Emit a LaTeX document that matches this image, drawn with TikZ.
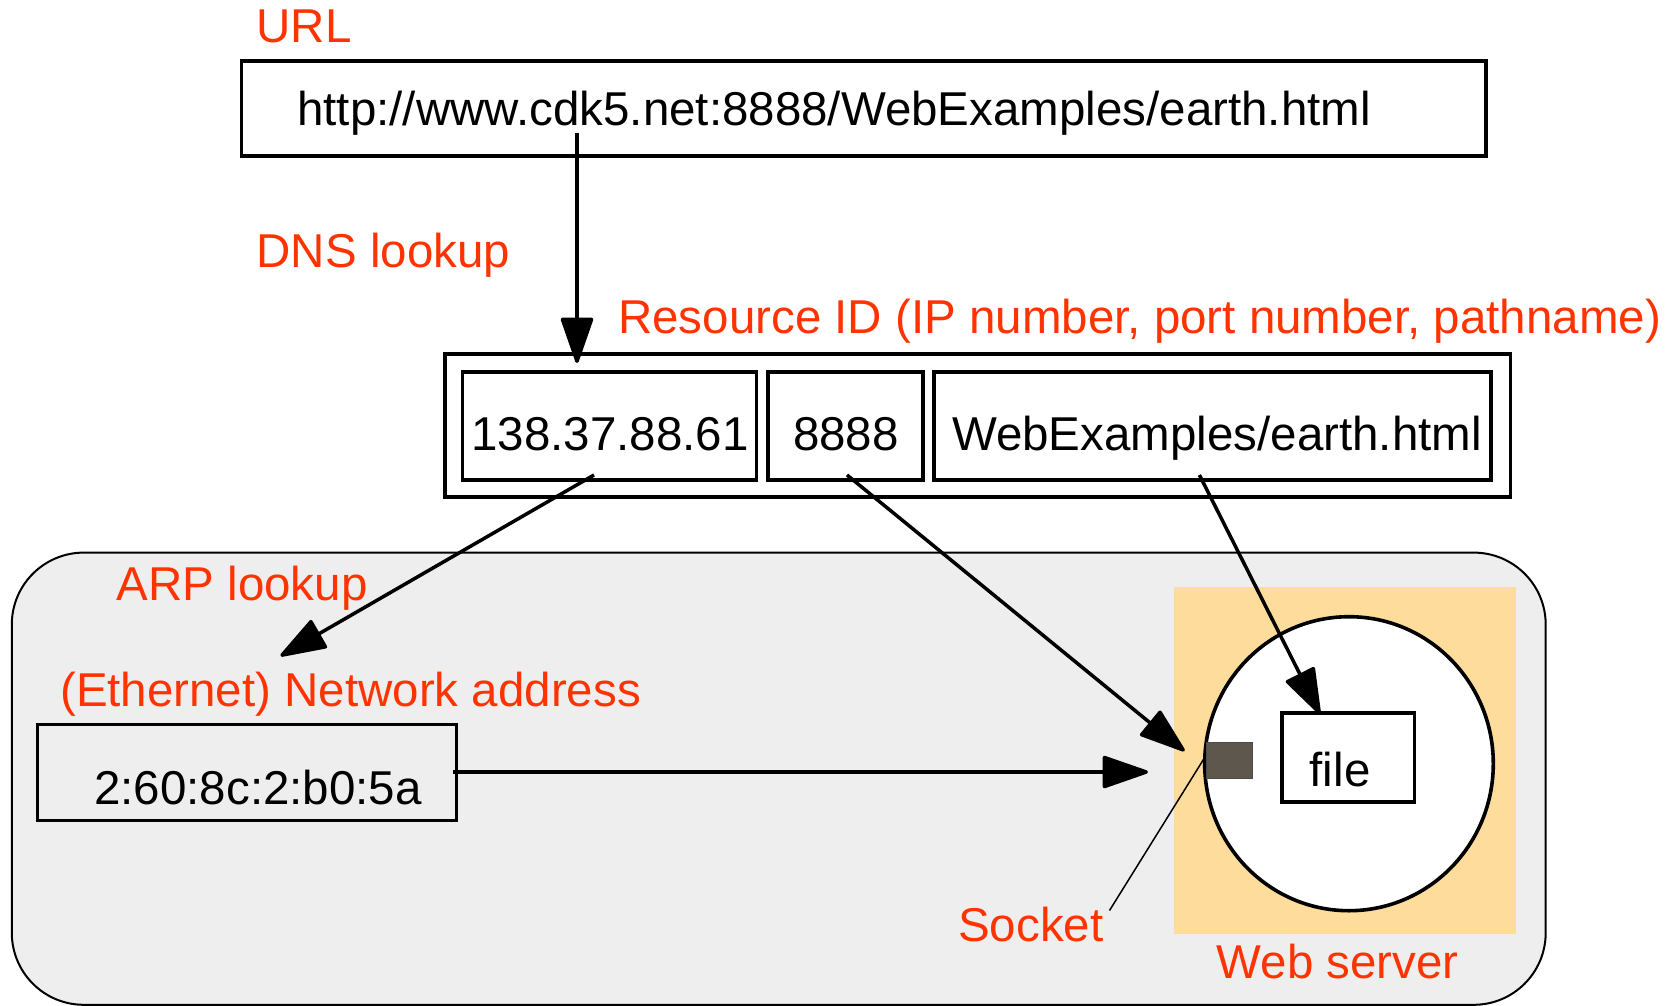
\documentclass[tikz,border=0pt]{standalone}
\usepackage{fontspec}
\setmainfont{Liberation Sans}
\usetikzlibrary{arrows.meta,calc,shapes.geometric}
\definecolor{lblred}{RGB}{255,51,0}
\definecolor{bggray}{RGB}{238,238,238}
\definecolor{peach}{RGB}{254,220,155}
\definecolor{sockfill}{RGB}{94,87,77}
\begin{document}
\begin{tikzpicture}[x=1pt,y=-1pt,
  bigfont/.style={font=\fontsize{47.5}{57}\selectfont},
  lbl/.style={bigfont, anchor=base west, inner sep=0pt, text=lblred},
  txt/.style={bigfont, anchor=base west, inner sep=0pt},
  ctxt/.style={bigfont, anchor=base, inner sep=0pt},
  box/.style={draw, line width=3.6pt, inner sep=0pt, rectangle},
  conn/.style={line width=3.5pt, -{Triangle[length=49pt,width=33pt,round]}},
  thinline/.style={line width=1.5pt}]
\useasboundingbox (0,0) rectangle (1676,1006);
% background areas
\node[draw, line width=2pt, fill=bggray, rounded corners=72pt, inner sep=0pt,
      minimum width=1533.9pt, minimum height=452.2pt] (net) at (778.75,778.7) {};
\node[fill=peach, inner sep=0pt, minimum width=342.1pt, minimum height=347.4pt] (ws) at (1344.75,760.6) {};
\node[draw, ellipse, line width=3.6pt, fill=white, inner sep=0pt,
      minimum width=288.6pt, minimum height=294pt] (proc) at (1349,763.7) {};
% boxes
\node[box, minimum width=1244.3pt, minimum height=95pt] (url) at (863.75,108.5) {};
\node[box, fill=white, minimum width=1065.8pt, minimum height=143.2pt] (rid) at (977.6,425.6) {};
\node[box, minimum width=294pt, minimum height=108pt] (ip) at (609.5,426) {};
\node[box, minimum width=155pt, minimum height=108pt] (port) at (845.2,426) {};
\node[box, minimum width=556.5pt, minimum height=108pt] (path) at (1212.5,426) {};
\node[box, minimum width=419pt, minimum height=96pt] (mac) at (247,772.6) {};
\node[box, fill=white, minimum width=132.5pt, minimum height=89pt] (file) at (1348.25,757.5) {};
\node[draw=black!70, line width=1pt, fill=sockfill, inner sep=0pt,
      minimum width=46.7pt, minimum height=36.2pt] (sock) at (1229.35,760.6) {};
% texts
\node[lbl] (urllbl) at (256.5,43) {URL};
\node[txt] (urltxt) at (297,126) {http://www.cdk5.net:8888/WebExamples/earth.html};
\node[lbl] (dnslbl) at (256.5,267) {DNS lookup};
\node[lbl] (ridlbl) at (618,333) {Resource ID (IP number, port number, pathname)};
\node[ctxt] (iptxt) at (610,450) {138.37.88.61};
\node[ctxt] (porttxt) at (846,450) {8888};
\node[ctxt] (pathtxt) at (1217,450) {WebExamples/earth.html};
\node[lbl] (arplbl) at (116.5,600.5) {ARP lookup};
\node[lbl] (ethlbl) at (60,706) {(Ethernet) Network address};
\node[txt] (mactxt) at (94,804) {2:60:8c:2:b0:5a};
\node[txt] (filetxt) at (1309.5,786) {file};
\node[lbl] (socklbl) at (958,941) {Socket};
\node[lbl] (wslbl) at (1216.5,978) {Web server};
% connector end points
\coordinate (dnsA) at (577,133);
\coordinate (dnsB) at (577,363);
\coordinate (arpA) at (594,475);
\coordinate (arpB) at (280.5,656);
\coordinate (portA) at (847,475);
\coordinate (portB) at (1184.5,751);
\coordinate (pathA) at (1199.4,475);
\coordinate (pathB) at (1320,714);
\coordinate (macA) at (453,772);
\coordinate (macB) at (1148,772);
\coordinate (sockA) at (1109.5,910.5);
\coordinate (sockB) at (1205,757);
% connectors
\draw[conn] (dnsA) -- (dnsB);
\draw[conn] (arpA) -- (arpB);
\draw[conn] (portA) -- (portB);
\draw[conn] (pathA) -- (pathB);
\draw[conn] (macA) -- (macB);
\draw[thinline] (sockA) -- (sockB);
\end{tikzpicture}
\end{document}
